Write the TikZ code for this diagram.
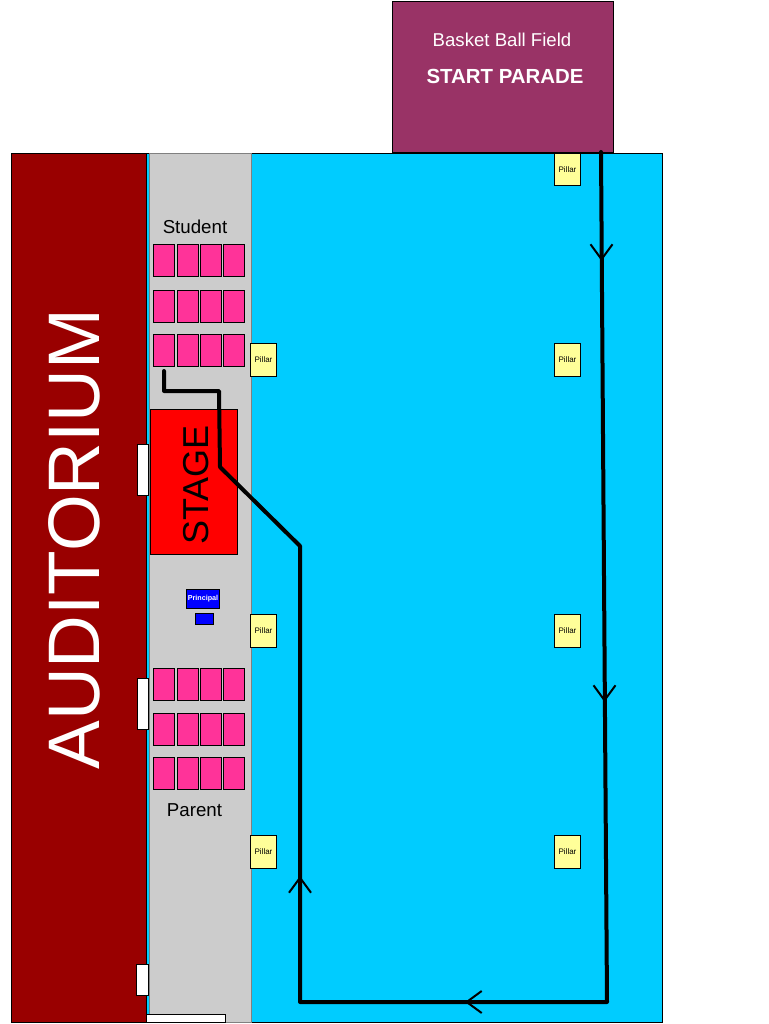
\documentclass[tikz,border=0pt]{standalone}
\usepackage{fontspec}
\setmainfont{Liberation Sans}
\usepackage{tikz}
\usetikzlibrary{arrows.meta,positioning,calc}
\definecolor{audred}{HTML}{990000}
\definecolor{fieldpurple}{HTML}{993366}
\definecolor{yardblue}{HTML}{00CCFF}
\definecolor{seatpink}{HTML}{FF3399}
\definecolor{pillaryellow}{HTML}{FFFF99}
\definecolor{aislegrey}{HTML}{CCCCCC}

\begin{document}
\begin{tikzpicture}[
  x=1pt,y=-1pt,
  zone/.style={draw,line width=0.7pt,inner sep=0pt,anchor=north west},
  seat/.style={zone,fill=seatpink,minimum width=20.5pt,minimum height=31.5pt},
  pillar/.style={zone,fill=pillaryellow,minimum width=26.3pt,minimum height=32.5pt,font=\fontsize{8}{10}\selectfont},
  door/.style={zone,fill=white},
  route/.style={line width=4pt,line join=round,line cap=round},
  barb/.style={line width=2pt,-{Straight Barb[length=15pt,width=22pt,line width=2pt]},shorten >=-1pt}
]
\useasboundingbox (0,0) rectangle (768,1024);
\node[zone,fill=fieldpurple,minimum width=220.5pt,minimum height=151.5pt] (field) at (392,1) {};
\node[text=white,font=\fontsize{18.6}{22}\selectfont] (fieldname) at (502,39.5) {Basket Ball Field};
\node[text=white,font=\bfseries\fontsize{20.4}{24}\selectfont] (parade) at (505,76) {START PARADE};
\node[zone,fill=yardblue,minimum width=651pt,minimum height=869pt] (yard) at (11,153) {};
\node[zone,fill=audred,minimum width=135pt,minimum height=869pt] (auditorium) at (11,153) {};
\node[text=white,rotate=90,font=\fontsize{73}{84}\selectfont] (audname) at (74,539) {AUDITORIUM};
\node[zone,fill=aislegrey,draw=gray,minimum width=102pt,minimum height=869pt] (aisle) at (149,153) {};
\node[zone,fill=red,minimum width=87.5pt,minimum height=144.5pt] (stage) at (149.5,409) {};
\node[rotate=90,font=\fontsize{36}{42}\selectfont] (stagename) at (196,485) {STAGE};
\node[door,minimum width=11pt,minimum height=50.5pt] (doorone) at (137,444) {};
\node[door,minimum width=11pt,minimum height=50.5pt] (doortwo) at (137,678) {};
\node[door,minimum width=12pt,minimum height=30.5pt] (doorthree) at (136,964) {};
\node[door,minimum width=78.5pt,minimum height=7.5pt] (doorfour) at (146,1014) {};
\node[font=\fontsize{18.7}{22}\selectfont] (student) at (195,226.5) {Student};
\node[font=\fontsize{18.7}{22}\selectfont] (parent) at (194.5,810) {Parent};
% seats
\foreach \y in {244,290,334,668,713,757}
  \foreach \x in {153,177,200,223}
    \node[seat] (seat\x-\y) at (\x,\y) {};
% pillars
\foreach \x/\y in {250/343,250/614,250/835,554/153,554/343,554/614,554/835}
  \node[pillar] (pillar\x-\y) at (\x,\y) {Pillar};
\node[zone,fill=blue,text=white,minimum width=33.3pt,minimum height=18.5pt,font=\bfseries\fontsize{7.2}{9}\selectfont] (principal) at (186,589) {Principal};
\node[zone,fill=blue,minimum width=17.5pt,minimum height=10.5pt] (desk) at (195,613) {};
% parade route
\coordinate (start) at (601,152);
\coordinate (headone) at (601.5,260);
\coordinate (headtwo) at (604.5,701);
\coordinate (corner) at (607,1002);
\coordinate (headthree) at (466,1002);
\coordinate (cornertwo) at (300,1002);
\coordinate (headfour) at (300,877);
\coordinate (bend) at (300,546);
\coordinate (bendtwo) at (220,467);
\coordinate (bendthree) at (219,391);
\coordinate (bendfour) at (164,391);
\coordinate (finish) at (164,371);
\draw[route] (start) -- (corner) -- (cornertwo) -- (bend) -- (bendtwo) -- (bendthree) -- (bendfour) -- (finish);
\draw[barb] ($(headone)+(0,-20)$) -- (headone);
\draw[barb] ($(headtwo)+(0,-20)$) -- (headtwo);
\draw[barb] ($(headthree)+(20,0)$) -- (headthree);
\draw[barb] ($(headfour)+(0,20)$) -- (headfour);
\end{tikzpicture}
\end{document}
